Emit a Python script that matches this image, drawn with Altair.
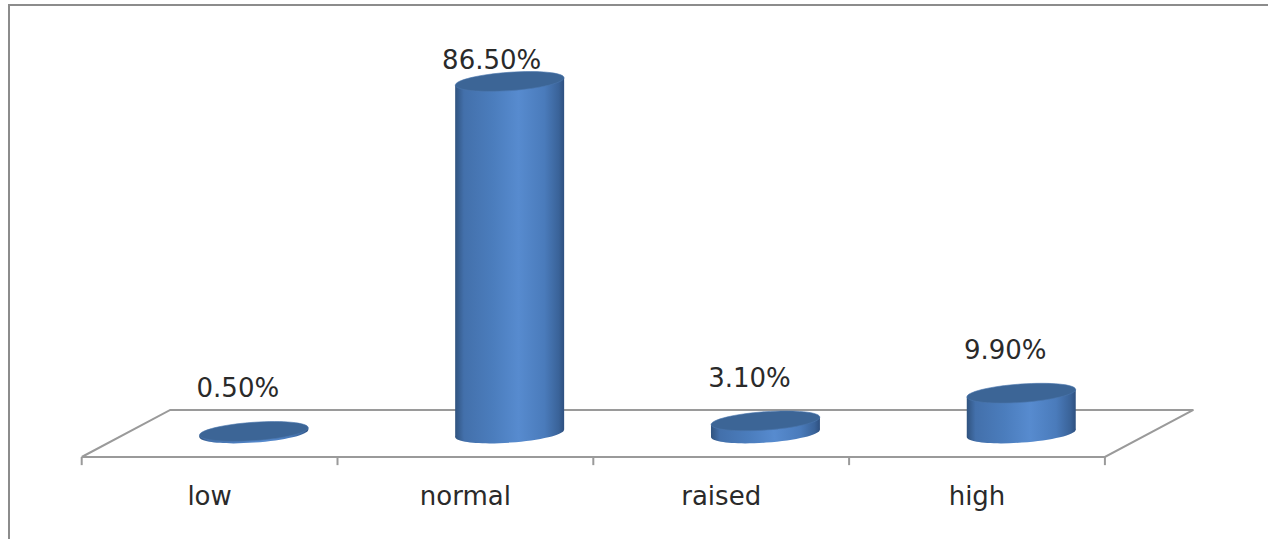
import altair as alt
import pandas as pd

# ---- data ---------------------------------------------------------------
categories = ["low", "normal", "raised", "high"]
percent = [0.5, 86.5, 3.1, 9.9]
value_labels = ["0.50%", "86.50%", "3.10%", "9.90%"]

# ---- canvas and oblique 3-D projection ------------------------------------
W, H = 1268, 539
# u runs along the category axis (one unit per category), v is the percent
# value; depth goes from 0 (front edge of the floor) to 1 (back edge).
X_DOMAIN = [-0.3194, 4.6376]
Y_DOMAIN = [-20.15, 112.29]
DEPTH_U = 0.346          # shift along u for a full unit of depth
DEPTH_V = 11.55          # shift along v for a full unit of depth
BAR_DEPTH = 0.5          # cylinders stand half-way back on the floor
HALF_WIDTH = 0.213       # cylinder radius, in category units
TILT = 0.91              # rise of the ellipse ends, in percent units
TICK_LEN = 2.0
ELLIPSE_RATIO = 0.168    # minor/major axis of the cylinder caps
ELLIPSE_SIZE = 109 ** 2  # symbol size -> cap width in pixels
ELLIPSE_ANGLE = 356

GREY = "#9a9a9a"
TEXT = "#2a2a2a"
FONT = "DejaVu Sans"
FONT_SIZE = 26

x_scale = alt.Scale(domain=X_DOMAIN, nice=False, zero=False)
y_scale = alt.Scale(domain=Y_DOMAIN, nice=False, zero=False)

n = len(categories)

# cylinder positions
bars = pd.DataFrame({"category": categories, "percent": percent, "label": value_labels})
bars["u"] = [i + 0.5 + BAR_DEPTH * DEPTH_U for i in range(n)]
bars["base"] = BAR_DEPTH * DEPTH_V
bars["top"] = bars["base"] + bars["percent"]

# cylinder sides: a parallelogram whose top and bottom follow the tilted caps
side_rows = []
for _, r in bars.iterrows():
    for s in (-1, 1):
        side_rows.append({
            "category": r["category"],
            "x": r["u"] + s * HALF_WIDTH,
            "y": r["top"] + s * TILT,
            "y2": r["base"] + s * TILT,
        })
sides = pd.DataFrame(side_rows)

# floor outline (front-left, front-right, back-right, back-left, close)
corners = [(0, 0), (n, 0), (n, 1), (0, 1), (0, 0)]
floor = pd.DataFrame({
    "order": list(range(len(corners))),
    "x": [u + d * DEPTH_U for u, d in corners],
    "y": [d * DEPTH_V for u, d in corners],
})

ticks = pd.DataFrame({"x": list(range(n + 1)), "y": 0.0, "y2": -TICK_LEN})
cat_labels = pd.DataFrame({"category": categories, "x": [i + 0.5 for i in range(n)], "y": 0.0})

k = 0.5523
r = ELLIPSE_RATIO
ellipse = (
    f"M-1,0 C-1,{-r * k:.4f} {-k},{-r} 0,{-r} "
    f"C{k},{-r} 1,{-r * k:.4f} 1,0 "
    f"C1,{r * k:.4f} {k},{r} 0,{r} "
    f"C{-k},{r} -1,{r * k:.4f} -1,0 Z"
)

side_fill = alt.Gradient(
    gradient="linear",
    x1=0, x2=1, y1=0, y2=0,
    stops=[
        alt.GradientStop(offset=0.0, color="#30537f"),
        alt.GradientStop(offset=0.08, color="#4370ab"),
        alt.GradientStop(offset=0.35, color="#4b7dbd"),
        alt.GradientStop(offset=0.58, color="#578bcf"),
        alt.GradientStop(offset=0.82, color="#4a7bbb"),
        alt.GradientStop(offset=0.95, color="#3a6399"),
        alt.GradientStop(offset=1.0, color="#2e5080"),
    ],
)

# ---- layers ---------------------------------------------------------------
frame = alt.Chart(pd.DataFrame({"a": [0]})).mark_rect(
    filled=False, stroke="#8c8c8c", strokeWidth=2
).encode(
    x=alt.value(9), x2=alt.value(W + 40), y=alt.value(5), y2=alt.value(H + 40)
)

floor_line = alt.Chart(floor).mark_line(color=GREY, strokeWidth=2).encode(
    x=alt.X("x:Q", scale=x_scale, axis=None),
    y=alt.Y("y:Q", scale=y_scale, axis=None),
    order="order:Q",
)

tick_marks = alt.Chart(ticks).mark_rule(color=GREY, strokeWidth=2).encode(
    x=alt.X("x:Q", scale=x_scale, axis=None),
    y=alt.Y("y:Q", scale=y_scale, axis=None),
    y2="y2:Q",
)

axis_text = alt.Chart(cat_labels).mark_text(
    font=FONT, fontSize=FONT_SIZE, color=TEXT, baseline="alphabetic", dy=48
).encode(
    x=alt.X("x:Q", scale=x_scale, axis=None),
    y=alt.Y("y:Q", scale=y_scale, axis=None),
    text="category:N",
)

bottom_caps = alt.Chart(bars).mark_point(
    shape=ellipse, size=ELLIPSE_SIZE, filled=True, opacity=1,
    angle=ELLIPSE_ANGLE, color=side_fill, strokeWidth=0,
).encode(
    x=alt.X("u:Q", scale=x_scale, axis=None),
    y=alt.Y("base:Q", scale=y_scale, axis=None),
)

body = alt.Chart(sides).mark_area(color=side_fill, opacity=1).encode(
    x=alt.X("x:Q", scale=x_scale, axis=None),
    y=alt.Y("y:Q", scale=y_scale, axis=None),
    y2="y2:Q",
    detail="category:N",
)

top_caps = alt.Chart(bars).mark_point(
    shape=ellipse, size=ELLIPSE_SIZE, filled=True, opacity=1,
    angle=ELLIPSE_ANGLE, color="#3c6596", stroke="#4a76ad", strokeWidth=0.6,
).encode(
    x=alt.X("u:Q", scale=x_scale, axis=None),
    y=alt.Y("top:Q", scale=y_scale, axis=None),
)

value_text_short = alt.Chart(bars).transform_filter(
    alt.datum.percent < 50
).mark_text(
    font=FONT, fontSize=FONT_SIZE, color=TEXT, baseline="alphabetic", dx=-16, dy=-34
).encode(
    x=alt.X("u:Q", scale=x_scale, axis=None),
    y=alt.Y("top:Q", scale=y_scale, axis=None),
    text="label:N",
)

value_text_tall = alt.Chart(bars).transform_filter(
    alt.datum.percent >= 50
).mark_text(
    font=FONT, fontSize=FONT_SIZE, color=TEXT, baseline="alphabetic", dx=-18, dy=-12
).encode(
    x=alt.X("u:Q", scale=x_scale, axis=None),
    y=alt.Y("top:Q", scale=y_scale, axis=None),
    text="label:N",
)

chart = alt.layer(
    frame, floor_line, tick_marks, axis_text,
    bottom_caps, body, top_caps,
    value_text_short, value_text_tall,
).properties(
    width=W, height=H,
    padding=0,
    autosize=alt.AutoSizeParams(type="none"),
    background="white",
).configure_view(stroke=None)

chart.save("out.html", embed_options={"renderer": "svg", "actions": False})
